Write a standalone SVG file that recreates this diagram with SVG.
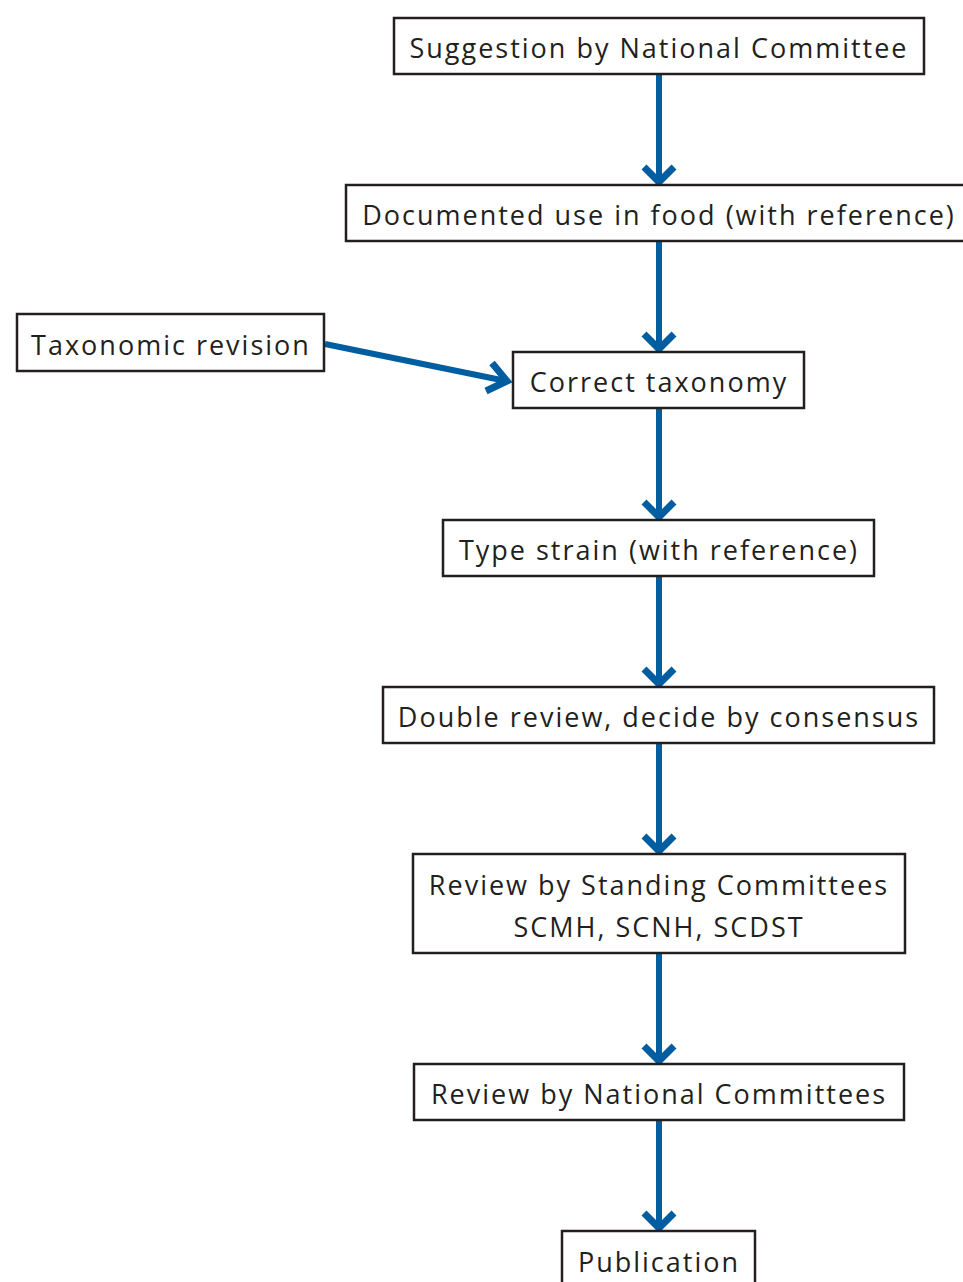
<svg xmlns="http://www.w3.org/2000/svg" width="963" height="1282" viewBox="0 0 963 1282">
<style>
.box{fill:#fff;stroke:#231f20;stroke-width:2.5}
.t{font-family:"Open Sans","Liberation Sans",sans-serif;font-size:27px;fill:#231f20;text-anchor:middle;letter-spacing:2px}
.c{fill:none;stroke:#005da0;stroke-width:6}
.h{fill:none;stroke:#005da0;stroke-width:7;stroke-linejoin:miter;stroke-miterlimit:10}
</style>
<rect width="963" height="1282" fill="#fff"/>
<g id="connectors">
<line class="c" x1="659" y1="74" x2="659" y2="182"/>
<polyline class="h" points="644,167 659,182 674,167"/>
<line class="c" x1="659" y1="241" x2="659" y2="349"/>
<polyline class="h" points="644,334 659,349 674,334"/>
<line class="c" x1="659" y1="408" x2="659" y2="517"/>
<polyline class="h" points="644,502 659,517 674,502"/>
<line class="c" x1="659" y1="576" x2="659" y2="684"/>
<polyline class="h" points="644,669 659,684 674,669"/>
<line class="c" x1="659" y1="743" x2="659" y2="851"/>
<polyline class="h" points="644,836 659,851 674,836"/>
<line class="c" x1="659" y1="953" x2="659" y2="1061"/>
<polyline class="h" points="644,1046 659,1061 674,1046"/>
<line class="c" x1="659" y1="1120" x2="659" y2="1228"/>
<polyline class="h" points="644,1213 659,1228 674,1213"/>
<line class="c" x1="325" y1="344" x2="506" y2="381"/>
<polyline class="h" points="492,363 507,381 486,391"/>
</g>
<g id="n1"><rect class="box" x="394" y="18" width="530" height="56"/><text class="t" x="659" y="58">Suggestion by National Committee</text></g>
<g id="n2"><rect class="box" x="346" y="185" width="630" height="56"/><text class="t" x="659" y="225">Documented use in food (with reference)</text></g>
<g id="n3"><rect class="box" x="17" y="314" width="307" height="57"/><text class="t" x="171" y="355">Taxonomic revision</text></g>
<g id="n4"><rect class="box" x="513" y="352" width="291" height="56"/><text class="t" x="659" y="392">Correct taxonomy</text></g>
<g id="n5"><rect class="box" x="443" y="520" width="431" height="56"/><text class="t" x="659" y="560">Type strain (with reference)</text></g>
<g id="n6"><rect class="box" x="383" y="687" width="551" height="56"/><text class="t" x="659" y="727">Double review, decide by consensus</text></g>
<g id="n7"><rect class="box" x="413" y="854" width="492" height="99"/><text class="t" x="659" y="895">Review by Standing Committees</text><text class="t" x="659" y="937">SCMH, SCNH, SCDST</text></g>
<g id="n8"><rect class="box" x="414" y="1064" width="490" height="56"/><text class="t" x="659" y="1104">Review by National Committees</text></g>
<g id="n9"><rect class="box" x="562" y="1231" width="193" height="60"/><text class="t" x="659" y="1272">Publication</text></g>
</svg>
